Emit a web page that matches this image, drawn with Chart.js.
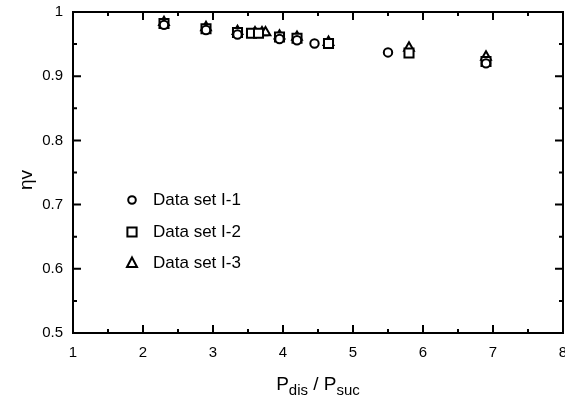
<!DOCTYPE html>
<html>
<head>
<meta charset="utf-8">
<script src="https://cdn.jsdelivr.net/npm/chart.js@4.4.1/dist/chart.umd.min.js"></script>
<style>
  html, body { margin: 0; padding: 0; background: #fff; }
  #wrap { width: 565px; height: 412px; }
</style>
</head>
<body>
<div id="wrap"><canvas id="chart"></canvas></div>
<script>
// pressure ratio (x) and volumetric efficiency (y) per data set
const set1X = [2.3, 2.9, 3.35, 3.95, 4.2, 4.45, 5.5, 6.9];
const set1Y = [0.980, 0.972, 0.965, 0.958, 0.956, 0.951, 0.937, 0.920];
const set2X = [2.3, 2.9, 3.35, 3.55, 3.65, 3.95, 4.2, 4.65, 5.8, 6.9];
const set2Y = [0.982, 0.974, 0.968, 0.967, 0.967, 0.961, 0.959, 0.951, 0.936, 0.923];
const set3X = [2.3, 2.9, 3.35, 3.6, 3.7, 3.75, 3.95, 4.2, 4.65, 5.8, 6.9];
const set3Y = [0.984, 0.976, 0.970, 0.968, 0.968, 0.968, 0.963, 0.961, 0.953, 0.944, 0.930];

const seriesNames = ['Data set I-1', 'Data set I-2', 'Data set I-3'];
const xMin = 1, xMax = 8, yMin = 0.5, yMax = 1;

const FONT = "'Liberation Sans', Arial, sans-serif";

function pts(xs, ys) {
    return xs.map((x, i) => ({ x: x, y: ys[i] }));
}

function marker(style, r) {
    return {
        data: [],
        showLine: false,
        pointStyle: style,
        pointRadius: r,
        pointHoverRadius: r,
        pointBorderColor: '#000',
        pointBackgroundColor: '#fff',
        pointBorderWidth: 2
    };
}

const ds1 = marker('circle', 4.2);
ds1.label = seriesNames[0]; ds1.data = pts(set1X, set1Y);
const ds2 = marker('rect', 6.4);
ds2.label = seriesNames[1]; ds2.data = pts(set2X, set2Y);
const ds3 = marker('triangle', 5.6);
ds3.label = seriesNames[2]; ds3.data = pts(set3X, set3Y);

// frame, inward ticks, titles and legend
const decor = {
    id: 'decor',
    afterDraw(chart) {
        const c = chart.ctx;
        const a = chart.chartArea;
        const xs = chart.scales.x, ys = chart.scales.y;
        c.save();
        c.strokeStyle = '#000';
        c.lineWidth = 2;
        c.strokeRect(a.left, a.top, a.right - a.left, a.bottom - a.top);

        c.beginPath();
        for (let v = xMin; v <= xMax + 1e-9; v += 0.5) {
            const px = xs.getPixelForValue(v);
            const len = Number.isInteger(v) ? 8 : 4;
            c.moveTo(px, a.bottom); c.lineTo(px, a.bottom - len);
            c.moveTo(px, a.top); c.lineTo(px, a.top + len);
        }
        for (let k = 0; k <= 10; k++) {
            const v = yMin + k * 0.05;
            const py = ys.getPixelForValue(v);
            const len = k % 2 === 0 ? 8 : 4;
            c.moveTo(a.left, py); c.lineTo(a.left + len, py);
            c.moveTo(a.right, py); c.lineTo(a.right - len, py);
        }
        c.stroke();

        // y title
        c.fillStyle = '#000';
        c.save();
        c.translate(27, 180);
        c.rotate(-Math.PI / 2);
        c.font = '19px ' + FONT;
        c.textAlign = 'center';
        c.textBaseline = 'middle';
        c.fillText('\u03B7v', 0, 0);
        c.restore();

        // x title with subscripts
        const parts = [['P', 19, 0], ['dis', 15, 5], [' / ', 19, 0], ['P', 19, 0], ['suc', 15, 5]];
        let w = 0;
        parts.forEach(p => { c.font = p[1] + 'px ' + FONT; w += c.measureText(p[0]).width; });
        let x = (a.left + a.right) / 2 - w / 2;
        c.textAlign = 'left';
        c.textBaseline = 'alphabetic';
        parts.forEach(p => {
            c.font = p[1] + 'px ' + FONT;
            c.fillText(p[0], x, 390 + p[2]);
            x += c.measureText(p[0]).width;
        });

        // legend
        const rows = [200, 232, 263];
        const mx = 132;
        c.lineWidth = 2;
        c.fillStyle = '#fff';
        c.strokeStyle = '#000';
        rows.forEach((y, i) => {
            c.beginPath();
            if (i === 0) {
                c.arc(mx, y, 3.8, 0, Math.PI * 2);
            } else if (i === 1) {
                c.rect(mx - 4.6, y - 4.6, 9.2, 9.2);
            } else {
                c.moveTo(mx, y - 5.5);
                c.lineTo(mx + 5, y + 4);
                c.lineTo(mx - 5, y + 4);
                c.closePath();
            }
            c.fill();
            c.stroke();
        });
        c.fillStyle = '#000';
        c.font = '17px ' + FONT;
        c.textBaseline = 'middle';
        rows.forEach((y, i) => c.fillText(seriesNames[i], 153, y));
        c.restore();
    }
};

new Chart(document.getElementById('chart').getContext('2d'), {
    type: 'scatter',
    data: { datasets: [ds1, ds2, ds3] },
    options: {
        responsive: true,
        maintainAspectRatio: false,
        animation: false,
        layout: { autoPadding: false, padding: { top: 12, right: 2, left: 0, bottom: 0 } },
        plugins: { legend: { display: false }, tooltip: { enabled: false } },
        scales: {
            x: {
                type: 'linear', min: xMin, max: xMax,
                grid: { display: false, drawTicks: false },
                border: { display: false },
                ticks: { stepSize: 1, color: '#000', padding: 11, font: { family: FONT, size: 15 } },
                afterFit(s) { s.height = 79; s.paddingLeft = 0; s.paddingRight = 0; }
            },
            y: {
                type: 'linear', min: yMin, max: yMax,
                grid: { display: false, drawTicks: false },
                border: { display: false },
                ticks: { stepSize: 0.1, color: '#000', padding: 10, font: { family: FONT, size: 15 },
                         callback: v => String(+v.toFixed(1)) },
                afterFit(s) { s.width = 73; s.paddingTop = 0; s.paddingBottom = 0; }
            }
        }
    },
    plugins: [decor]
});
</script>
</body>
</html>
